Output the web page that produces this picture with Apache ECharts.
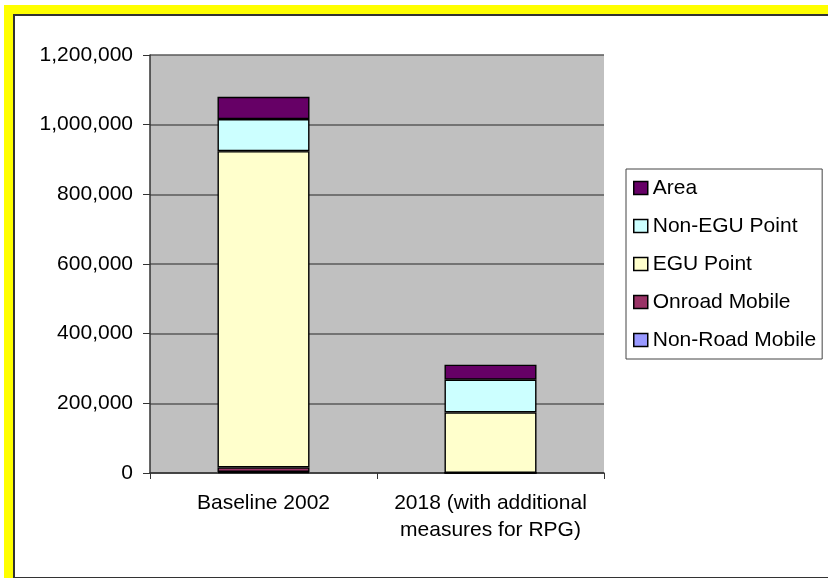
<!DOCTYPE html>
<html>
<head>
<meta charset="utf-8">
<script src="https://cdn.jsdelivr.net/npm/echarts@6/dist/echarts.min.js"></script>
<style>
html,body{margin:0;padding:0;background:#fff;}
#yellow{position:absolute;left:4px;top:5px;width:824px;height:573px;background:#FFFF00;}
#frame{position:absolute;left:13px;top:14px;width:830px;height:561px;background:#fff;border-left:2px solid #333;border-top:2px solid #333;border-bottom:2px solid #333;}
#chart{position:absolute;left:0;top:0;width:828px;height:578px;}
</style>
</head>
<body>
<div id="yellow"></div>
<div id="frame"></div>
<div id="chart"></div>
<script>
var categories = ['Baseline 2002', '2018 (with additional\nmeasures for RPG)'];
var nonRoadMobile = [3000, 0];
var onroadMobile = [13000, 0];
var eguPoint = [908000, 174000];
var nonEguPoint = [92000, 94000];
var area = [64000, 43000];
var yTicks = [0, 200000, 400000, 600000, 800000, 1000000, 1200000];

var seriesNames = ['Non-Road Mobile', 'Onroad Mobile', 'EGU Point', 'Non-EGU Point', 'Area'];
var seriesData = [nonRoadMobile, onroadMobile, eguPoint, nonEguPoint, area];
var seriesColors = ['#9999FF', '#993366', '#FFFFCC', '#CCFFFF', '#660066'];

var FONT = '"Liberation Sans", Arial, sans-serif';

var chart = echarts.init(document.getElementById('chart'));
chart.setOption({
  animation: false,
  textStyle: {fontFamily: FONT},
  grid: {left: 150, top: 55, right: 224, bottom: 105, show: true, backgroundColor: '#C0C0C0', borderWidth: 0},
  legend: {
    orient: 'vertical',
    left: 626, top: 169,
    data: ['Area', 'Non-EGU Point', 'EGU Point', 'Onroad Mobile', 'Non-Road Mobile'],
    itemWidth: 14, itemHeight: 13, itemGap: 14,
    padding: [7, 6, 7, 7],
    borderColor: '#444', borderWidth: 1,
    backgroundColor: '#fff',
    icon: 'rect',
    itemStyle: {borderColor: '#000', borderWidth: 1.5},
    textStyle: {fontFamily: FONT, fontSize: 21, lineHeight: 24, color: '#000'}
  },
  xAxis: {
    type: 'category',
    data: categories,
    axisLine: {lineStyle: {color: '#333', width: 1.5}},
    axisTick: {show: true, length: 6, lineStyle: {color: '#333'}},
    axisLabel: {fontFamily: FONT, fontSize: 21, lineHeight: 27, color: '#000', margin: 17, interval: 0}
  },
  yAxis: {
    type: 'value',
    min: yTicks[0], max: yTicks[yTicks.length - 1], interval: yTicks[1] - yTicks[0],
    axisLine: {show: true, lineStyle: {color: '#333', width: 1.5}},
    axisTick: {show: true, length: 7, lineStyle: {color: '#333'}},
    splitLine: {lineStyle: {color: '#5a5a5a', width: 1.5}},
    axisLabel: {fontFamily: FONT, fontSize: 21, color: '#000', margin: 17,
      formatter: function (v) { return v.toLocaleString('en-US'); }}
  },
  series: seriesNames.map(function (name, i) {
    return {
      name: name,
      type: 'bar',
      stack: 'total',
      barWidth: 92,
      data: seriesData[i],
      itemStyle: {color: seriesColors[i], borderColor: '#000', borderWidth: 1.4}
    };
  })
});
</script>
</body>
</html>
